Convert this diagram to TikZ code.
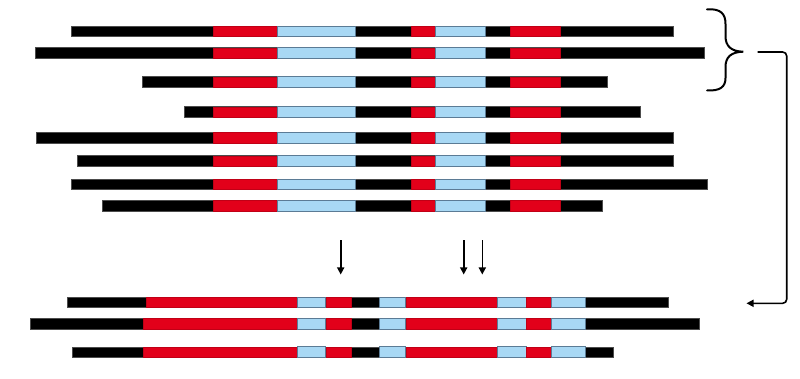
\documentclass[tikz,border=0pt]{standalone}
\usetikzlibrary{arrows.meta}
\definecolor{segred}{HTML}{E2001A}
\definecolor{segblue}{HTML}{A8D8F4}
\definecolor{segblueedge}{HTML}{5B7B95}
\tikzset{
  blackseg/.style={fill=black, draw=black!70, line width=0.4pt},
  redseg/.style={fill=segred, draw=segred!85!black, line width=0.3pt},
  blueseg/.style={fill=segblue, draw=segblueedge, line width=0.7pt},
  downarrow/.style={line width=1.6pt, -{Triangle[length=7pt,width=7pt]}},
  bracepath/.style={line width=2pt, line cap=round},
  linkarrow/.style={line width=1.6pt, rounded corners=4pt, -{Triangle[length=7pt,width=7pt]}}
}
% half height of a bar
\newcommand{\hh}{5.3}
% top rows: #1 centre y, #2 left end, #3 right end
\newcommand{\toprow}[3]{%
  \path[blackseg] (#2,#1-\hh) rectangle (#3,#1+\hh);
  \path[redseg] (213,#1-\hh) rectangle (277.7,#1+\hh);
  \path[blueseg] (277.7,#1-\hh) rectangle (355,#1+\hh);
  \path[redseg] (411,#1-\hh) rectangle (435.7,#1+\hh);
  \path[blueseg] (435.7,#1-\hh) rectangle (485.7,#1+\hh);
  \path[redseg] (510.3,#1-\hh) rectangle (559.7,#1+\hh);
}
% bottom rows: #1 centre y, #2 left end, #3 red start, #4 right end
\newcommand{\botrow}[4]{%
  \path[blackseg] (#2,#1-\hh) rectangle (#4,#1+\hh);
  \path[redseg] (#3,#1-\hh) rectangle (297,#1+\hh);
  \path[blueseg] (297,#1-\hh) rectangle (325.7,#1+\hh);
  \path[redseg] (325.7,#1-\hh) rectangle (351.3,#1+\hh);
  \path[blueseg] (379.3,#1-\hh) rectangle (405.7,#1+\hh);
  \path[redseg] (405.7,#1-\hh) rectangle (497.3,#1+\hh);
  \path[blueseg] (497.3,#1-\hh) rectangle (526,#1+\hh);
  \path[redseg] (526,#1-\hh) rectangle (551.7,#1+\hh);
  \path[blueseg] (551.7,#1-\hh) rectangle (585.3,#1+\hh);
}
\begin{document}
\begin{tikzpicture}[x=1pt,y=-1pt]
\useasboundingbox (0,0) rectangle (800,379);
% top group
\toprow{31.3}{71.3}{672.7}
\toprow{53}{34.7}{704}
\toprow{82}{142.3}{606.7}
\toprow{112}{184}{640.3}
\toprow{137.8}{36}{672.7}
\toprow{161}{76.7}{672.7}
\toprow{184.3}{71.3}{706.7}
\toprow{205.7}{101.7}{602.3}
% bottom group
\botrow{302.2}{66.7}{145.7}{667.7}
\botrow{323.8}{30}{143.3}{699.3}
\botrow{352}{72}{143.3}{613.3}
% down arrows
\coordinate (a1s) at (340.7,240.5);
\coordinate (a1e) at (340.7,274.5);
\coordinate (a2s) at (463.7,240.5);
\coordinate (a2e) at (463.7,274.5);
\coordinate (a3s) at (482.3,240.5);
\coordinate (a3e) at (482.3,274.5);
\draw[downarrow] (a1s) -- (a1e);
\draw[downarrow] (a2s) -- (a2e);
\draw[downarrow] (a3s) -- (a3e);
% brace
\coordinate (btop) at (707,9.3);
\coordinate (btip) at (743.3,51.7);
\coordinate (bbot) at (707,90.5);
\draw[bracepath] (btop) .. controls (721,8.5) and (725.5,14) .. (725.5,24)
  -- (725.5,36) .. controls (725.5,46) and (731,51.5) .. (btip)
  .. controls (731,52) and (725.5,57) .. (725.5,67)
  -- (725.5,78) .. controls (725.5,87) and (720,91) .. (bbot);
% link arrow
\coordinate (ls) at (757.7,52);
\coordinate (lc1) at (786.7,52);
\coordinate (lc2) at (786.7,303.3);
\coordinate (le) at (746.5,303.3);
\draw[linkarrow] (ls) -- (lc1) -- (lc2) -- (le);
\end{tikzpicture}
\end{document}
